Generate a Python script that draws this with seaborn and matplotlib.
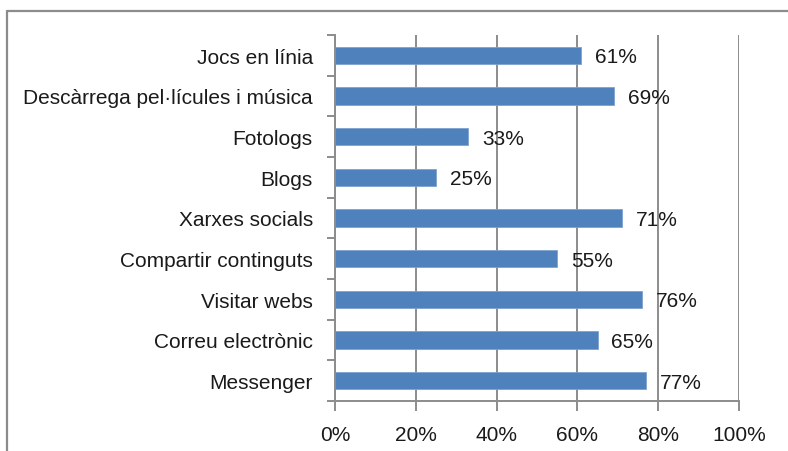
import matplotlib
matplotlib.use("Agg")
import matplotlib.pyplot as plt
from matplotlib.lines import Line2D
from matplotlib.ticker import FixedLocator, PercentFormatter
import numpy as np
import pandas as pd
import seaborn as sns

categories = [
    "Jocs en línia",
    "Descàrrega pel·lícules i música",
    "Fotologs",
    "Blogs",
    "Xarxes socials",
    "Compartir continguts",
    "Visitar webs",
    "Correu electrònic",
    "Messenger",
]
values = [61, 69, 33, 25, 71, 55, 76, 65, 77]
x_ticks = [0, 20, 40, 60, 80, 100]

df = pd.DataFrame({"activitat": categories, "percentatge": values})

sns.set_theme(style="white")
plt.rcParams["font.family"] = ["Liberation Sans", "DejaVu Sans"]

fig = plt.figure(figsize=(7.88, 4.52), dpi=100)
ax = fig.add_axes([335 / 788, 1 - 402 / 452, 404 / 788, 366 / 452])

sns.barplot(data=df, x="percentatge", y="activitat", order=categories,
            color="#4F81BD", width=0.42, orient="h", ax=ax, saturation=1,
            edgecolor="#7EA3D0", linewidth=0.6)

grey = "#8C8C8C"
fs = 15
ax.set_xlim(0, 100)
ax.set_ylim(len(categories) - 0.5, -0.5)
ax.xaxis.set_major_locator(FixedLocator(x_ticks))
ax.xaxis.set_major_formatter(PercentFormatter(decimals=0))
ax.grid(axis="x", color=grey, linewidth=1.4)
ax.set_axisbelow(True)
ax.set_xlabel("")
ax.set_ylabel("")

for side in ("top", "right"):
    ax.spines[side].set_visible(False)
for side in ("left", "bottom"):
    ax.spines[side].set_color(grey)
    ax.spines[side].set_linewidth(1.4)

# category separators on the y axis, value ticks below the x axis
ax.yaxis.set_minor_locator(FixedLocator(np.arange(-0.5, len(categories), 1)))
ax.tick_params(axis="y", which="major", length=0, labelsize=fs, pad=16,
               labelcolor="#1A1A1A")
ax.tick_params(axis="y", which="minor", left=True, length=6, width=1.4,
               color=grey)
ax.tick_params(axis="x", which="major", bottom=True, length=7, width=1.4,
               color=grey, labelsize=fs, pad=10, labelcolor="#1A1A1A")

for i, v in enumerate(values):
    ax.annotate(f"{v}%", xy=(v, i), xytext=(10, -1), textcoords="offset points",
                ha="left", va="center", fontsize=fs, color="#1A1A1A")

# chart frame
fig.add_artist(Line2D([7 / 788, 7 / 788], [0, 1 - 12 / 452],
                      transform=fig.transFigure, color=grey, linewidth=1.6))
fig.add_artist(Line2D([7 / 788, 1], [1 - 12 / 452, 1 - 12 / 452],
                      transform=fig.transFigure, color=grey, linewidth=1.6))

fig.savefig("out.png", dpi=100)
